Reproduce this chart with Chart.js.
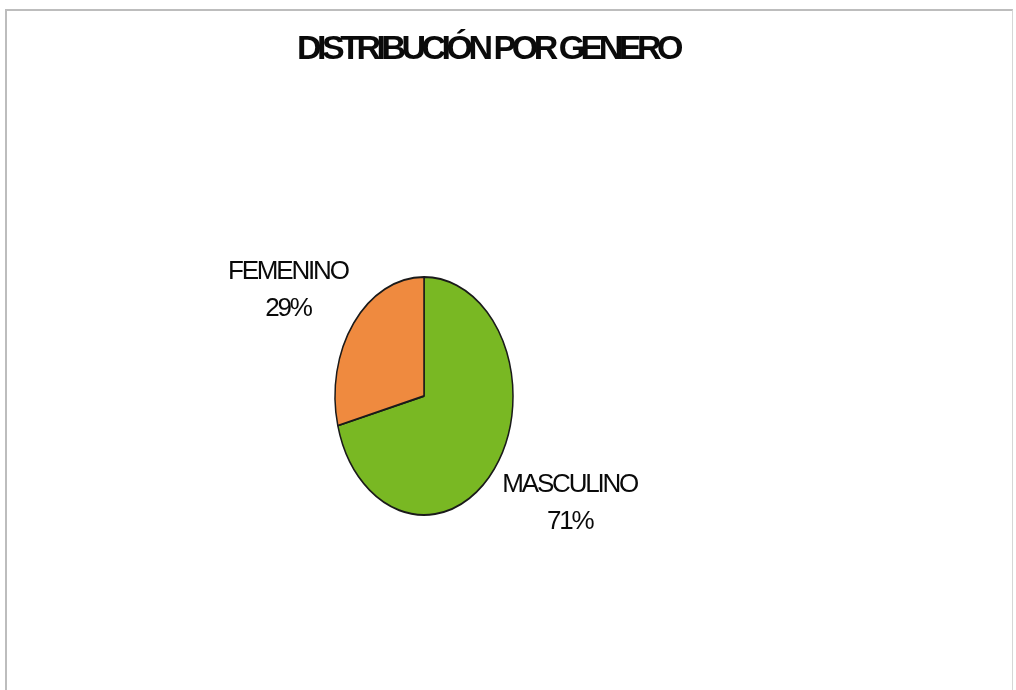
<!DOCTYPE html>
<html lang="es">
<head>
    <meta charset="utf-8">
    <title>Distribución por género</title>
    <script src="https://cdn.jsdelivr.net/npm/chart.js@4.4.0/dist/chart.umd.min.js"></script>
    <style>
        html, body { margin: 0; padding: 0; background: #fff; }
        #frame {
            position: absolute; left: 5px; top: 9px; width: 1008px; height: 681px;
            border-left: 2px solid #bdbdbd; border-top: 2px solid #bdbdbd; border-right: 1px solid #d6d6d6;
            box-sizing: border-box;
        }
        #wrap { position: absolute; left: 0; top: 0; width: 1016px; height: 690px; }
    </style>
</head>
<body>
<div id="frame"></div>
<div id="wrap"><canvas id="myChart" width="1016" height="690"></canvas></div>

<script>
    const title = "DISTRIBUCIÓN POR GENERO";
    const labels = ["MASCULINO", "FEMENINO"];
    const values = [71, 29];
    const colors = ["#79b823", "#ef8a3f"];

    const squeeze = 0.748; // pie is drawn as an ellipse in the original

    // squash the pie horizontally
    const ellipsePlugin = {
        id: "ellipse",
        beforeDatasetsDraw(chart) {
            const arc = chart.getDatasetMeta(0).data[0];
            const ctx = chart.ctx;
            ctx.save();
            ctx.translate(arc.x, 0);
            ctx.scale(squeeze, 1);
            ctx.translate(-arc.x, 0);
        },
        afterDatasetsDraw(chart) {
            chart.ctx.restore();
        }
    };

    // title and slice labels (excel style, tight letters)
    const textPlugin = {
        id: "texts",
        afterDraw(chart) {
            const ctx = chart.ctx;
            ctx.save();
            ctx.fillStyle = "#0a0a0a";
            ctx.textBaseline = "middle";
            ctx.textAlign = "center";
            ctx.font = "bold 34px 'Liberation Sans', Arial, sans-serif";
            ctx.letterSpacing = "-4.5px";
            ctx.fillText(title, 488, 50);

            const total = values.reduce((a, b) => a + b, 0);
            ctx.font = "26px 'Liberation Sans', Arial, sans-serif";
            ctx.letterSpacing = "-2.2px";
            chart.getDatasetMeta(0).data.forEach((arc, i) => {
                const mid = (arc.startAngle + arc.endAngle) / 2;
                const ex = arc.x + Math.cos(mid) * arc.outerRadius * squeeze;
                const ey = arc.y + Math.sin(mid) * arc.outerRadius;
                const lines = [labels[i], Math.round(values[i] / total * 100) + "%"];
                const w = Math.max(...lines.map(t => ctx.measureText(t).width));
                const lh = 37;
                let cx, top;
                if (Math.cos(mid) >= 0) {
                    cx = ex + 8 + w / 2;
                } else {
                    cx = ex - 6 - w / 2;
                }
                if (Math.sin(mid) >= 0) {
                    top = ey - 3;
                } else {
                    top = ey + 4 - lh * 2;
                }
                lines.forEach((t, k) => ctx.fillText(t, cx, top + lh * k + lh / 2));
            });
            ctx.restore();
        }
    };

    const ctx = document.getElementById("myChart").getContext("2d");
    const myChart = new Chart(ctx, {
        type: "pie",
        data: {
            labels: labels,
            datasets: [{
                data: values,
                backgroundColor: colors,
                borderColor: "#1a1a1a",
                borderWidth: 2,
                hoverOffset: 0
            }]
        },
        options: {
            responsive: false,
            animation: false,
            radius: 119,
            layout: { padding: { left: 100, right: 268, top: 152, bottom: 50 } },
            plugins: {
                legend: { display: false },
                tooltip: { enabled: false }
            },
            events: []
        },
        plugins: [ellipsePlugin, textPlugin]
    });
</script>
</body>
</html>
